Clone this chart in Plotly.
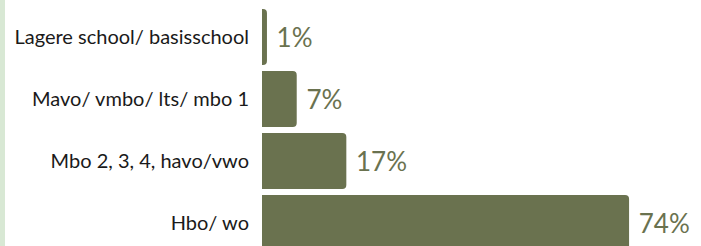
import plotly.graph_objects as go

categories = ["Lagere school/ basisschool", "Mavo/ vmbo/ lts/ mbo 1", "Mbo 2, 3, 4, havo/vwo", "Hbo/ wo"]
values = [1, 7, 17, 74]
labels = ["1%", "7%", "17%", "74%"]

bar_color = "#6a724f"

fig = go.Figure(go.Bar(
    y=categories,
    x=values,
    orientation="h",
    text=labels,
    texttemplate=" %{text}",
    textposition="outside",
    textfont=dict(size=26, color=bar_color, family="Lato"),
    cliponaxis=False,
    marker=dict(color=bar_color, cornerradius=4, line=dict(width=0)),
    hoverinfo="skip",
))

fig.update_layout(
    width=701, height=246,
    margin=dict(l=262, r=0, t=6, b=0, autoexpand=False),
    paper_bgcolor="white", plot_bgcolor="white",
    bargap=0.1,
    showlegend=False,
    font=dict(family="Lato", size=20, color="#1a1a1a"),
    xaxis=dict(range=[0, 88.5], visible=False, fixedrange=True, automargin=False),
    yaxis=dict(type="category", categoryorder="array", categoryarray=categories,
               range=[3.371, -0.5], showgrid=False, zeroline=False, showline=False,
               ticks="", ticklabelstandoff=12, tickfont=dict(size=20, color="#1a1a1a"),
               fixedrange=True, automargin=False),
    shapes=[dict(type="rect", xref="paper", yref="paper", x0=-262/439, x1=-257/439,
                 y0=-0.05, y1=1.05, fillcolor="#d8e8d4", line=dict(width=0), layer="below")],
)

fig.write_html("out.html", config={"displayModeBar": False},
               post_script="document.body.style.margin='0';document.body.style.overflow='hidden';")
